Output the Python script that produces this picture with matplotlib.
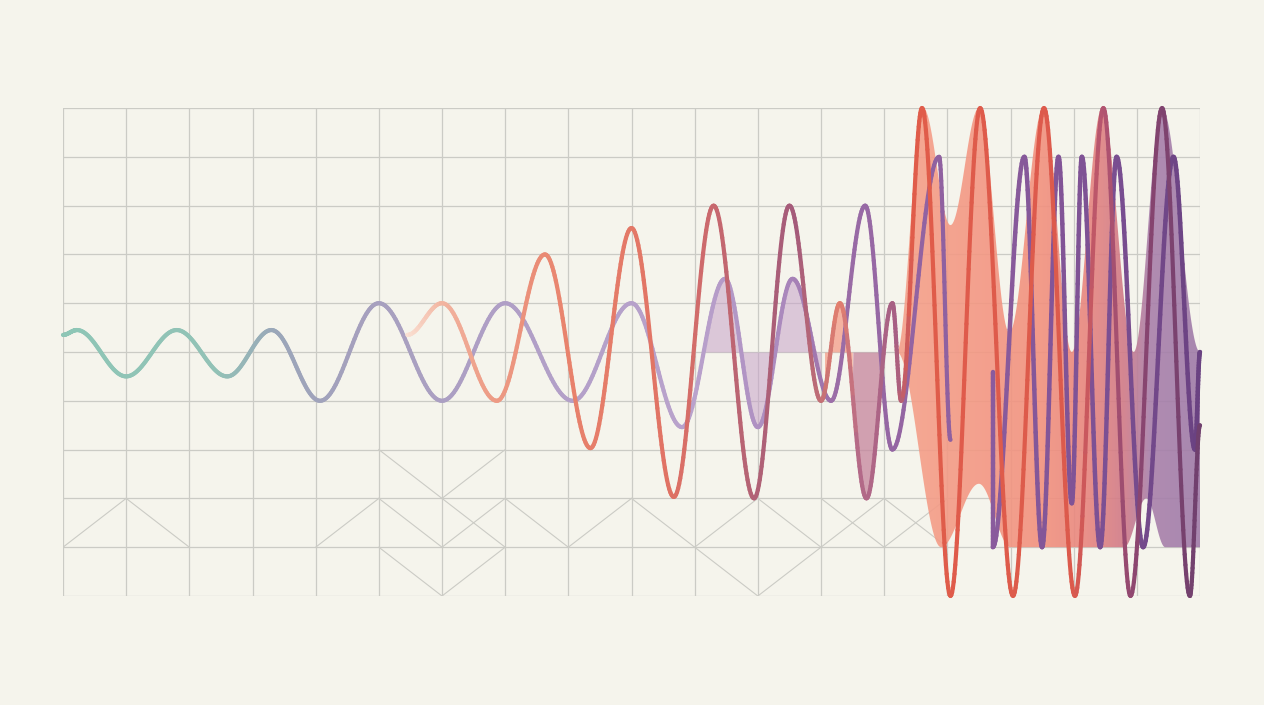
# Abstract "growing waves" chart on a square grid
import numpy as np
import matplotlib
matplotlib.use("Agg")
import matplotlib.pyplot as plt
from matplotlib.bezier import BezierSegment
from matplotlib.collections import LineCollection
from matplotlib.colors import LinearSegmentedColormap
from matplotlib.patches import Polygon

########################### DATA ######################################
# grid units: 18 columns x 10 rows, centre line at row 5
n_cols, n_rows = 18, 10
centre = 5.0

# wave A (teal -> lavender -> deep purple), turning points, first stroke
wave_a_x = [0.0, 0.22, 1.0, 1.8, 2.6, 3.3, 4.07, 5.0, 6.0, 7.0, 8.07, 9.0, 9.8,
            10.48, 11.0, 11.55, 12.16, 12.7, 13.13, 13.87, 14.05]
wave_a_y = [5.35, 5.45, 4.5, 5.45, 4.5, 5.45, 4.0, 6.0, 4.0, 6.0, 4.0, 6.0, 3.46,
            6.5, 3.46, 6.5, 4.0, 8.0, 3.0, 9.0, 3.2]
# wave A, second stroke (starts with a straight drop)
wave_a2_x = [14.72, 14.72, 15.22, 15.5, 15.76, 15.97, 16.13, 16.42, 16.68,
             17.1, 17.58, 17.92, 18.0]
wave_a2_y = [4.6, 1.0, 9.0, 1.0, 9.0, 1.9, 9.0, 1.0, 9.0,
             1.0, 9.0, 3.0, 5.0]

# wave B (salmon -> coral -> red -> plum), turning points
wave_b_x = [5.45, 6.0, 6.87, 7.63, 8.35, 9.0, 9.67, 10.3, 10.94, 11.5, 12.0, 12.3,
            12.72, 13.13, 13.27, 13.6, 14.05, 14.52, 15.04, 15.53, 16.02, 16.47,
            16.9, 17.4, 17.84, 18.0]
wave_b_y = [5.35, 6.0, 4.0, 7.0, 3.03, 7.54, 2.03, 8.0, 2.0, 8.0, 4.0, 6.0,
            2.0, 6.0, 4.0, 10.0, 0.0, 10.0, 0.0, 10.0, 0.0, 10.0,
            0.0, 10.0, 0.0, 3.5]

# big filled band on the right: upper and lower edges
band_top_x = [13.2, 13.62, 14.05, 14.5, 14.98, 15.52, 15.97, 16.45, 16.95, 17.4, 18.0]
band_top_y = [5.0, 10.0, 7.6, 10.0, 5.4, 10.0, 5.0, 10.0, 5.0, 10.0, 5.0]
band_bot_x = [13.2, 13.9, 14.5, 15.0, 16.8, 17.15, 17.45, 18.0]
band_bot_y = [5.0, 1.0, 2.3, 1.0, 1.0, 2.0, 1.0, 1.0]

# decorative diagonals in the lower rows: (col0, row0, col1, row1)
diagonals = [(0, 1, 1, 2), (1, 2, 2, 1), (4, 1, 5, 2), (5, 3, 6, 2), (6, 2, 7, 3),
             (5, 2, 6, 1), (6, 2, 7, 1), (6, 1, 7, 2), (5, 1, 6, 0), (6, 0, 7, 1),
             (7, 2, 8, 1), (8, 1, 9, 2), (9, 2, 10, 1), (10, 1, 11, 2), (11, 2, 12, 1),
             (10, 1, 11, 0), (11, 0, 12, 1), (12, 1, 13, 2), (12, 2, 13, 1),
             (13, 2, 14, 1), (13, 1, 14, 2)]

########################### STYLE #####################################
bg = "#f5f4ec"
grid_col = "#cbcbc5"

stops_a = [(0.0, "#8ec6b6"), (2.4, "#92c2b6"), (3.4, "#9ba6b9"), (4.6, "#a5a0bd"),
           (7.0, "#b09fc6"), (10.0, "#b9a2cc"), (11.3, "#ac8cbf"), (12.3, "#9a6ca6"),
           (14.5, "#8c5d9e"), (16.5, "#7c5093"), (18.0, "#6a4282")]
stops_b = [(5.45, "#fae0d2"), (6.0, "#f2b4a0"), (6.6, "#eea08a"), (8.0, "#e8826c"),
           (9.6, "#e07264"), (10.3, "#c8686e"), (11.0, "#b06276"), (11.6, "#a45a7a"),
           (12.0, "#c27076"), (12.3, "#e5806e"), (12.6, "#b46a88"), (13.2, "#a66084"),
           (13.45, "#e05c4a"), (16.0, "#dc5a4c"), (16.45, "#b65670"), (17.0, "#8c4670"),
           (18.0, "#70406e")]
stops_band = [(13.2, "#f5a08a"), (15.5, "#f2917e"), (16.2, "#e8867f"), (16.8, "#d07a88"),
              (17.2, "#a980ab"), (18.0, "#9f7ba8")]


def make_cmap(name, stops):
    c0, c1 = stops[0][0], stops[-1][0]
    return LinearSegmentedColormap.from_list(name, [((c - c0) / (c1 - c0), col) for c, col in stops]), c0, c1


def curve(xs, ys, k=0.36, n=40):
    # smooth half-waves between turning points (cubic Bezier, flat tangents)
    pts = []
    for x0, y0, x1, y1 in zip(xs[:-1], ys[:-1], xs[1:], ys[1:]):
        dx = x1 - x0
        seg = BezierSegment(np.array([[x0, y0], [x0 + k * dx, y0], [x1 - k * dx, y1], [x1, y1]]))
        p = seg(np.linspace(0, 1, n))
        pts.append(p if not pts else p[1:])
    return np.vstack(pts)


def gradient_line(ax, pts, stops, lw, z):
    cmap, c0, c1 = make_cmap("w", stops)
    segs = np.stack([pts[:-1], pts[1:]], axis=1)
    mid = (segs[:, 0, 0] + segs[:, 1, 0]) / 2
    lc = LineCollection(segs, colors=cmap(np.clip((mid - c0) / (c1 - c0), 0, 1)),
                        linewidths=lw, capstyle="round", joinstyle="round",
                        zorder=z, clip_on=False)
    ax.add_collection(lc)


########################### PLOT ######################################
fig = plt.figure(figsize=(12.64, 7.05), dpi=100, facecolor=bg)
ax = fig.add_axes([63 / 1264, 109 / 705, 1137 / 1264, 488 / 705])
ax.set_facecolor(bg)

# grid
for c in range(n_cols + 1):
    ax.plot([c, c], [0, n_rows], color=grid_col, lw=0.9, zorder=1)
for r in range(n_rows + 1):
    ax.plot([0, n_cols], [r, r], color=grid_col, lw=0.9, zorder=1)
for c0, r0, c1, r1 in diagonals:
    ax.plot([c0, c1], [r0, r1], color=grid_col, lw=0.8, zorder=1)

pts_a = curve(wave_a_x, wave_a_y)
pts_a2 = curve(wave_a2_x, wave_a2_y)
pts_b = curve(wave_b_x, wave_b_y)

# soft fills between the waves and the centre line
xa, ya = pts_a[:, 0], pts_a[:, 1]
ax.fill_between(xa, ya, centre, where=(xa >= 10.15) & (xa <= 12.0), interpolate=True,
                color="#c7a2c9", alpha=0.55, lw=0, zorder=2)
xb, yb = pts_b[:, 0], pts_b[:, 1]
ax.fill_between(xb, yb, centre, where=(xb >= 12.05) & (xb <= 12.5), interpolate=True,
                color="#f4a28e", alpha=0.8, lw=0, zorder=2)
ax.fill_between(xb, yb, centre, where=(xb >= 12.5) & (xb <= 12.98), interpolate=True,
                color="#c5849c", alpha=0.75, lw=0, zorder=2)

# big gradient band on the right, clipped to its outline
top = curve(band_top_x, band_top_y)
bot = curve(band_bot_x, band_bot_y)
outline = np.vstack([top, bot[::-1]])
clip = Polygon(outline, closed=True, transform=ax.transData, facecolor="none", edgecolor="none")
ax.add_patch(clip)
band_cmap, b0, b1 = make_cmap("band", stops_band)
img = ax.imshow(np.linspace(0, 1, 256)[None, :], cmap=band_cmap, extent=[b0, b1, 0, 10],
                aspect="auto", alpha=0.9, zorder=3, interpolation="bilinear")
img.set_clip_path(clip)

# the waves
gradient_line(ax, pts_a, stops_a, 3.0, 5)
gradient_line(ax, pts_a2, stops_a, 3.2, 5)
gradient_line(ax, pts_b, stops_b, 3.0, 6)

ax.set_xlim(0, n_cols)
ax.set_ylim(0, n_rows)
ax.set_xticks([])
ax.set_yticks([])
for s in ax.spines.values():
    s.set_visible(False)

fig.savefig("out.png", dpi=100, facecolor=bg)
